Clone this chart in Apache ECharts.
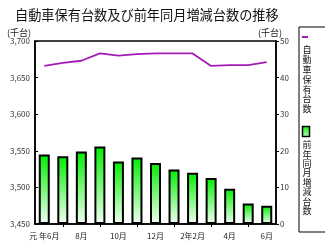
<!DOCTYPE html>
<html><head><meta charset="utf-8">
<script src="https://cdn.jsdelivr.net/npm/echarts@6/dist/echarts.min.js"></script>
<style>html,body{margin:0;padding:0;background:#fff}#c{width:325px;height:242px}</style>
</head><body><div id="c"></div>
<script>
var categories = ['元年6月','7月','8月','9月','10月','11月','12月','2年1月','2年2月','3月','4月','5月','6月'];
var ownedVehicles = [3666, 3670, 3673, 3683, 3680, 3682, 3683, 3683, 3683, 3666, 3667, 3667, 3671];
var yoyChange = [19.0, 18.5, 19.8, 21.2, 17.1, 18.2, 16.7, 14.9, 14.0, 12.6, 9.6, 5.6, 5.0];
var seriesNames = ['自動車保有台数', '前年同月増減台数'];
var titleText = '自動車保有台数及び前年同月増減台数の推移';
var unitText = '(千台)';

var font = 'Noto Sans CJK JP';
var chart = echarts.init(document.getElementById('c'), null, {renderer: 'canvas'});
function vert(s){ return s.split('').join('\n'); }
chart.setOption({
  animation: false,
  backgroundColor: '#fff',
  textStyle: {fontFamily: font},
  title: {text: titleText, left: 10, top: 3, textStyle: {fontFamily: font, fontSize: 13.2, fontWeight: 'normal', color: '#111'}},
  grid: {left: 35, right: 49, top: 41, bottom: 18, show: true, borderColor: '#000', borderWidth: 1.5, backgroundColor: 'transparent'},
  xAxis: {
    type: 'category', data: categories, boundaryGap: true,
    axisLine: {lineStyle: {color: '#000', width: 1.5}},
    axisTick: {show: true, alignWithLabel: true, interval: function(i){ return i % 2 === 1; }, length: 3, lineStyle: {color: '#000'}},
    axisLabel: {interval: function(i){ return i % 2 === 0; }, fontSize: 8, color: '#222', margin: 8, fontFamily: font,
      formatter: function(v){ return v.replace('元年', '元 年'); }}
  },
  yAxis: [
    {type: 'value', min: 3450, max: 3700, interval: 50, position: 'left',
     name: unitText, nameLocation: 'end', nameGap: 4, nameTextStyle: {fontSize: 9, color: '#222', align: 'right', padding: [0, 4, 0, 0]},
     splitLine: {show: false},
     axisLine: {show: true, lineStyle: {color: '#000', width: 1.5}},
     axisTick: {show: true, inside: true, length: 3, lineStyle: {color: '#000'}},
     axisLabel: {fontSize: 8, color: '#333', margin: 5, formatter: function(v){ return v.toLocaleString('en-US'); }}},
    {type: 'value', min: 0, max: 50, interval: 10, position: 'right',
     name: unitText, nameLocation: 'end', nameGap: 4, nameTextStyle: {fontSize: 9, color: '#222', align: 'left', padding: [0, 0, 0, -18]},
     splitLine: {show: false},
     axisLine: {show: true, lineStyle: {color: '#000', width: 1.5}},
     axisTick: {show: true, inside: false, length: 3, lineStyle: {color: '#000'}},
     axisLabel: {fontSize: 8, color: '#333', margin: 4}}
  ],
  series: [
    {name: seriesNames[1], type: 'bar', yAxisIndex: 1, data: yoyChange, barWidth: 11, z: 2,
     itemStyle: {borderColor: '#000', borderWidth: 2,
       color: new echarts.graphic.LinearGradient(0, 0, 0, 1, [{offset: 0, color: '#00ee00'}, {offset: 1, color: '#f4fff4'}])}},
    {name: seriesNames[0], type: 'line', yAxisIndex: 0, data: ownedVehicles, symbol: 'none', z: 3,
     lineStyle: {color: '#a21cb4', width: 1.8}}
  ],
  graphic: [
    {type: 'rect', shape: {x: 299, y: 27, width: 40, height: 205}, style: {fill: '#fff', stroke: '#000', lineWidth: 1}},
    {type: 'line', shape: {x1: 302, y1: 37, x2: 308, y2: 37}, style: {stroke: '#a21cb4', lineWidth: 2}},
    {type: 'text', x: 307, y: 45, style: {text: vert(seriesNames[0]), font: '9px "' + font + '"', fill: '#111', align: 'center', verticalAlign: 'top', lineHeight: 9.8}},
    {type: 'rect', shape: {x: 302.5, y: 126.5, width: 7, height: 10}, style: {fill: new echarts.graphic.LinearGradient(0, 0, 0, 1, [{offset: 0, color: '#00ee00'}, {offset: 1, color: '#c0ffc0'}]), stroke: '#000', lineWidth: 1.5}},
    {type: 'text', x: 307, y: 140, style: {text: vert(seriesNames[1]), font: '9px "' + font + '"', fill: '#111', align: 'center', verticalAlign: 'top', lineHeight: 9.4}}
  ]
});
</script></body></html>
